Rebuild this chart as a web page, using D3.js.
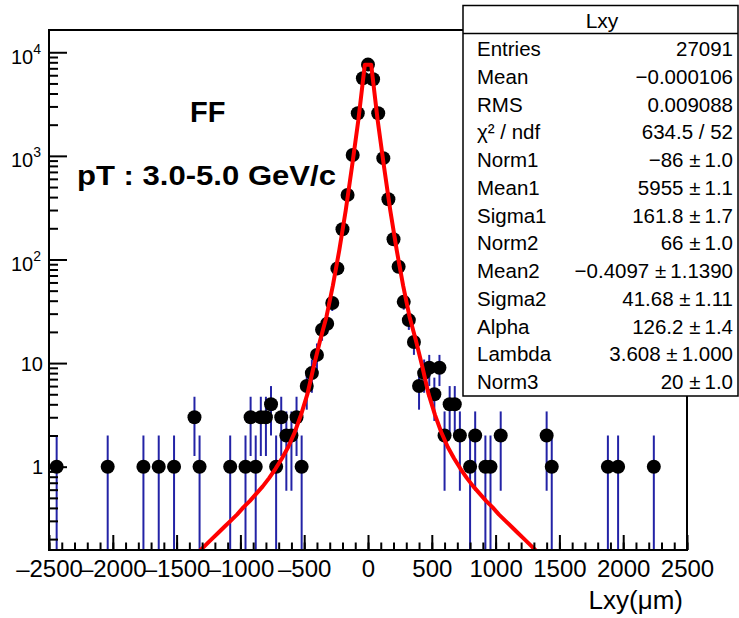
<!DOCTYPE html>
<html>
<head>
<meta charset="utf-8">
<script src="https://cdn.jsdelivr.net/npm/d3@7"></script>
<style>
body { margin: 0; background: #fff; }
text { font-family: "Liberation Sans", Arial, Helvetica, sans-serif; fill: #000; }
</style>
</head>
<body>
<script>
// histogram bins (Lxy in um) and their counts
var binCenters = [-2440,-2040,-1760,-1640,-1520,-1360,-1320,-1080,-960,-920,-880,-840,-800,-760,-720,-680,-640,-600,-560,-520,-480,-440,-400,-360,-320,-280,-240,-200,-160,-120,-80,-40,
  0,40,80,120,160,200,240,280,320,360,400,440,480,520,560,600,640,680,720,800,840,920,960,1040,1400,1440,1880,1960,2240];
var binCounts = [1,1,1,1,1,3,1,1,1,3,1,3,3,4,1,3,2,2,3,1,6,8,12,21,24,38,82,196,420,1020,2580,5610,
  7600,5490,2580,950,381,157,85,39,26,16,6,8,9,5,9,2,4,4,2,1,2,1,1,2,2,1,1,1,1];

// fit function, sampled from the red curve
var fitX = [-1375,-1325,-1275,-1225,-1175,-1125,-1075,-1025,-975,-925,-875,-825,-775,-725,-675,-625,-575,-525,-475,-425,-375,-325,-275,-225,-175,-125,-75,-25,
  25,75,125,175,225,275,325,375,425,475,525,575,625,675,725,775,825,875,925,975,1025,1075,1125,1175,1225,1275,1325,1375];
var fitY = [0.132,0.151,0.174,0.200,0.229,0.263,0.302,0.347,0.407,0.468,0.550,0.646,0.776,0.955,1.20,1.55,2.14,3.16,5.01,9.33,16.6,28.2,56.2,123,295,794,2240,7590,
  7590,2240,794,295,123,56.2,28.2,16.6,9.33,5.01,3.16,2.14,1.55,1.20,0.955,0.776,0.646,0.550,0.468,0.407,0.347,0.302,0.263,0.229,0.200,0.174,0.151,0.132];

var xTickValues = [-2500,-2000,-1500,-1000,-500,0,500,1000,1500,2000,2500];
var yTickValues = [1,10,100,1000,10000];
var yTickPowers = [0,1,2,3,4];

var statNames = ["Entries","Mean","RMS","\u03C7\u00B2 / ndf","Norm1","Mean1","Sigma1","Norm2","Mean2","Sigma2","Alpha","Lambda","Norm3"];
var statValues = ["27091","\u22120.000106","0.009088","634.5 / 52","\u221286 \u00B1\u20091.0","5955 \u00B1\u20091.1","161.8 \u00B1\u20091.7",
  "66 \u00B1\u20091.0","\u22120.4097 \u00B1\u20091.1390","41.68 \u00B1\u20091.11","126.2 \u00B1\u20091.4","3.608 \u00B1\u20091.000","20 \u00B1\u20091.0"];

// frame of the pad
var frame = {left: 49, top: 30, right: 687, bottom: 550};

var svg = d3.select("body").append("svg")
    .attr("width", 739)
    .attr("height", 618);

var x = d3.scaleLinear()
    .domain([-2500, 2500])
    .range([frame.left, frame.right]);
var y = d3.scaleLog()
    .domain([0.157, 16400])
    .range([frame.bottom, frame.top]);

svg.append("clipPath").attr("id", "plotclip")
  .append("rect")
    .attr("x", frame.left).attr("y", frame.top)
    .attr("width", frame.right - frame.left)
    .attr("height", frame.bottom - frame.top);

var points = binCenters.map(function(c, i) { return {x: c, y: binCounts[i]}; });

var plot = svg.append("g").attr("clip-path", "url(#plotclip)");

// error bars (sqrt N)
plot.selectAll(".err")
    .data(points)
    .enter().append("line")
    .attr("class", "err")
    .attr("x1", function(d) { return x(d.x); })
    .attr("x2", function(d) { return x(d.x); })
    .attr("y1", function(d) { var lo = d.y - Math.sqrt(d.y); return lo > 0 ? y(lo) : frame.bottom + 5; })
    .attr("y2", function(d) { return y(d.y + Math.sqrt(d.y)); })
    .attr("stroke", "#2323a6")
    .attr("stroke-width", 2);

plot.selectAll(".dot")
    .data(points)
    .enter().append("circle")
    .attr("class", "dot")
    .attr("cx", function(d) { return x(d.x); })
    .attr("cy", function(d) { return y(d.y); })
    .attr("r", 7)
    .attr("fill", "#000");

// fit curve
var fitLine = d3.line()
    .x(function(d, i) { return x(fitX[i]); })
    .y(function(d) { return y(d); });
plot.append("path")
    .attr("d", fitLine(fitY))
    .attr("fill", "none")
    .attr("stroke", "#ff0000")
    .attr("stroke-width", 4)
    .attr("stroke-linejoin", "round");

// axes, ticks drawn inward like ROOT
var xAxisG = svg.append("g")
    .attr("transform", "translate(0," + frame.bottom + ")");
xAxisG.append("g")
    .call(d3.axisBottom(x).tickValues(x.ticks(50)).tickSizeInner(-7.5).tickSizeOuter(0).tickFormat(""));
xAxisG.append("g")
    .call(d3.axisBottom(x).tickValues(xTickValues).tickSizeInner(-15).tickSizeOuter(0).tickPadding(10)
      .tickFormat(function(d) { return d < 0 ? "\u2013" + Math.abs(d) : d; }));
xAxisG.selectAll(".domain").remove();
xAxisG.selectAll("line").attr("stroke", "#000").attr("stroke-width", 2);
xAxisG.selectAll("text").attr("font-size", 24).attr("font-family", "Liberation Sans, Arial, sans-serif");

var yAxisG = svg.append("g")
    .attr("transform", "translate(" + frame.left + ",0)");
yAxisG.append("g")
    .call(d3.axisLeft(y).tickValues(y.ticks().filter(function(t) { return yTickValues.indexOf(t) < 0; }))
      .tickSizeInner(-9).tickSizeOuter(0).tickFormat(""));
var yMajor = yAxisG.append("g")
    .call(d3.axisLeft(y).tickValues(yTickValues).tickSizeInner(-18).tickSizeOuter(0).tickPadding(6).tickFormat(""));
yAxisG.selectAll(".domain").remove();
yAxisG.selectAll("line").attr("stroke", "#000").attr("stroke-width", 2);

yMajor.selectAll(".tick text").each(function(d, i) {
  var t = d3.select(this)
      .attr("font-size", 20)
      .attr("font-family", "Liberation Sans, Arial, sans-serif")
      .attr("dy", null);
  var p = yTickPowers[i];
  if (p < 2) {
    t.attr("y", 7).text(p === 0 ? "1" : "10");
  } else {
    t.attr("y", 11).attr("x", -8);
    t.append("tspan").text("10");
    t.append("tspan").attr("font-size", 14).attr("dy", -10).text(p);
  }
});

// frame
svg.append("rect")
    .attr("x", frame.left).attr("y", frame.top)
    .attr("width", frame.right - frame.left)
    .attr("height", frame.bottom - frame.top)
    .attr("fill", "none")
    .attr("stroke", "#000")
    .attr("stroke-width", 2);

// axis title
svg.append("text")
    .attr("x", 683).attr("y", 609)
    .attr("text-anchor", "end")
    .attr("font-size", 26)
    .text("Lxy(\u03BCm)");

// labels in the pad
svg.append("text")
    .attr("x", 190).attr("y", 122)
    .attr("font-size", 29).attr("font-weight", "bold")
    .text("FF");
svg.append("text")
    .attr("x", 77).attr("y", 185)
    .attr("font-size", 27).attr("font-weight", "bold")
    .attr("textLength", 259).attr("lengthAdjust", "spacingAndGlyphs")
    .text("pT : 3.0-5.0 GeV/c");

// stats box
var box = svg.append("g");
box.append("rect")
    .attr("x", 463).attr("y", 5.5)
    .attr("width", 275).attr("height", 390.5)
    .attr("fill", "#fff")
    .attr("stroke", "#000")
    .attr("stroke-width", 1.5);
box.append("line")
    .attr("x1", 463).attr("x2", 738)
    .attr("y1", 33.5).attr("y2", 33.5)
    .attr("stroke", "#000").attr("stroke-width", 1.5);
box.append("text")
    .attr("x", 602).attr("y", 28)
    .attr("text-anchor", "middle")
    .attr("font-size", 21)
    .text("Lxy");
box.selectAll(".sname")
    .data(statNames)
    .enter().append("text")
    .attr("class", "sname")
    .attr("x", 477)
    .attr("y", function(d, i) { return 56 + i * 27.75; })
    .attr("font-size", 20.5)
    .text(function(d) { return d; });
box.selectAll(".sval")
    .data(statValues)
    .enter().append("text")
    .attr("class", "sval")
    .attr("x", 733)
    .attr("y", function(d, i) { return 56 + i * 27.75; })
    .attr("text-anchor", "end")
    .attr("font-size", 20.5)
    .text(function(d) { return d; });
</script>
</body>
</html>
